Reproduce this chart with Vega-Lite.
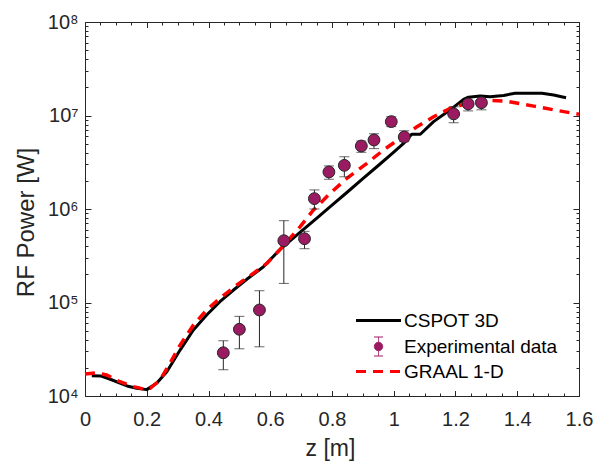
{
  "$schema": "https://vega.github.io/schema/vega-lite/v6.json",
  "width": 494,
  "height": 374,
  "autosize": {"type": "none"},
  "padding": {"left": 85, "top": 22, "right": 23, "bottom": 65},
  "background": "white",
  "config": {
    "view": {"stroke": "#262626", "strokeWidth": 1},
    "font": "Liberation Sans"
  },
  "datasets": {
    "cspot": [
      {"z": 0.022, "p": 16500, "series": "CSPOT 3D"},
      {"z": 0.05, "p": 16400, "series": "CSPOT 3D"},
      {"z": 0.08, "p": 15200, "series": "CSPOT 3D"},
      {"z": 0.113, "p": 13700, "series": "CSPOT 3D"},
      {"z": 0.14, "p": 12700, "series": "CSPOT 3D"},
      {"z": 0.167, "p": 12100, "series": "CSPOT 3D"},
      {"z": 0.2, "p": 11700, "series": "CSPOT 3D"},
      {"z": 0.232, "p": 13700, "series": "CSPOT 3D"},
      {"z": 0.265, "p": 18200, "series": "CSPOT 3D"},
      {"z": 0.308, "p": 31000, "series": "CSPOT 3D"},
      {"z": 0.351, "p": 50800, "series": "CSPOT 3D"},
      {"z": 0.394, "p": 73500, "series": "CSPOT 3D"},
      {"z": 0.437, "p": 102000, "series": "CSPOT 3D"},
      {"z": 0.481, "p": 136000, "series": "CSPOT 3D"},
      {"z": 0.524, "p": 177000, "series": "CSPOT 3D"},
      {"z": 0.578, "p": 241000, "series": "CSPOT 3D"},
      {"z": 0.632, "p": 370000, "series": "CSPOT 3D"},
      {"z": 0.7, "p": 575000, "series": "CSPOT 3D"},
      {"z": 0.75, "p": 796000, "series": "CSPOT 3D"},
      {"z": 0.8, "p": 1100000, "series": "CSPOT 3D"},
      {"z": 0.85, "p": 1520000, "series": "CSPOT 3D"},
      {"z": 0.9, "p": 2110000, "series": "CSPOT 3D"},
      {"z": 0.95, "p": 2920000, "series": "CSPOT 3D"},
      {"z": 1.0, "p": 4050000, "series": "CSPOT 3D"},
      {"z": 1.031, "p": 5000000, "series": "CSPOT 3D"},
      {"z": 1.058, "p": 6300000, "series": "CSPOT 3D"},
      {"z": 1.086, "p": 6300000, "series": "CSPOT 3D"},
      {"z": 1.129, "p": 8600000, "series": "CSPOT 3D"},
      {"z": 1.183, "p": 11500000, "series": "CSPOT 3D"},
      {"z": 1.226, "p": 14900000, "series": "CSPOT 3D"},
      {"z": 1.242, "p": 15700000, "series": "CSPOT 3D"},
      {"z": 1.28, "p": 16200000, "series": "CSPOT 3D"},
      {"z": 1.312, "p": 15900000, "series": "CSPOT 3D"},
      {"z": 1.356, "p": 16400000, "series": "CSPOT 3D"},
      {"z": 1.393, "p": 17300000, "series": "CSPOT 3D"},
      {"z": 1.48, "p": 17300000, "series": "CSPOT 3D"},
      {"z": 1.518, "p": 16600000, "series": "CSPOT 3D"},
      {"z": 1.558, "p": 15500000, "series": "CSPOT 3D"}
    ],
    "graal": [
      {"z": 0.0, "p": 17200, "series": "GRAAL 1-D"},
      {"z": 0.038, "p": 17700, "series": "GRAAL 1-D"},
      {"z": 0.07, "p": 16800, "series": "GRAAL 1-D"},
      {"z": 0.113, "p": 14200, "series": "GRAAL 1-D"},
      {"z": 0.157, "p": 12600, "series": "GRAAL 1-D"},
      {"z": 0.189, "p": 11900, "series": "GRAAL 1-D"},
      {"z": 0.211, "p": 12100, "series": "GRAAL 1-D"},
      {"z": 0.243, "p": 14800, "series": "GRAAL 1-D"},
      {"z": 0.275, "p": 22400, "series": "GRAAL 1-D"},
      {"z": 0.308, "p": 35000, "series": "GRAAL 1-D"},
      {"z": 0.351, "p": 57400, "series": "GRAAL 1-D"},
      {"z": 0.394, "p": 83200, "series": "GRAAL 1-D"},
      {"z": 0.437, "p": 111000, "series": "GRAAL 1-D"},
      {"z": 0.492, "p": 154000, "series": "GRAAL 1-D"},
      {"z": 0.545, "p": 205000, "series": "GRAAL 1-D"},
      {"z": 0.589, "p": 262000, "series": "GRAAL 1-D"},
      {"z": 0.632, "p": 370000, "series": "GRAAL 1-D"},
      {"z": 0.697, "p": 647000, "series": "GRAAL 1-D"},
      {"z": 0.74, "p": 975000, "series": "GRAAL 1-D"},
      {"z": 0.794, "p": 1470000, "series": "GRAAL 1-D"},
      {"z": 0.848, "p": 2130000, "series": "GRAAL 1-D"},
      {"z": 0.913, "p": 3080000, "series": "GRAAL 1-D"},
      {"z": 0.967, "p": 4280000, "series": "GRAAL 1-D"},
      {"z": 1.021, "p": 5700000, "series": "GRAAL 1-D"},
      {"z": 1.075, "p": 7590000, "series": "GRAAL 1-D"},
      {"z": 1.129, "p": 9700000, "series": "GRAAL 1-D"},
      {"z": 1.183, "p": 11900000, "series": "GRAAL 1-D"},
      {"z": 1.237, "p": 13500000, "series": "GRAAL 1-D"},
      {"z": 1.302, "p": 14600000, "series": "GRAAL 1-D"},
      {"z": 1.366, "p": 14200000, "series": "GRAAL 1-D"},
      {"z": 1.453, "p": 12600000, "series": "GRAAL 1-D"},
      {"z": 1.518, "p": 11500000, "series": "GRAAL 1-D"},
      {"z": 1.6, "p": 10300000, "series": "GRAAL 1-D"}
    ],
    "exp": [
      {"z": 0.448, "p": 29000, "lo": 19100, "hi": 39000, "series": "Experimental data"},
      {"z": 0.5, "p": 51700, "lo": 32000, "hi": 71100, "series": "Experimental data"},
      {"z": 0.565, "p": 83200, "lo": 33600, "hi": 133600, "series": "Experimental data"},
      {"z": 0.644, "p": 458000, "lo": 160000, "hi": 750000, "series": "Experimental data"},
      {"z": 0.711, "p": 481000, "lo": 376000, "hi": 577000, "series": "Experimental data"},
      {"z": 0.743, "p": 1290000, "lo": 1000000, "hi": 1600000, "series": "Experimental data"},
      {"z": 0.79, "p": 2490000, "lo": 2080000, "hi": 2890000, "series": "Experimental data"},
      {"z": 0.84, "p": 2930000, "lo": 2210000, "hi": 3620000, "series": "Experimental data"},
      {"z": 0.895, "p": 4720000, "lo": 4040000, "hi": 5330000, "series": "Experimental data"},
      {"z": 0.936, "p": 5470000, "lo": 4420000, "hi": 6380000, "series": "Experimental data"},
      {"z": 0.992, "p": 8600000, "lo": 7600000, "hi": 9700000, "series": "Experimental data"},
      {"z": 1.034, "p": 5890000, "lo": 5250000, "hi": 6870000, "series": "Experimental data"},
      {"z": 1.194, "p": 10400000, "lo": 8370000, "hi": 12400000, "series": "Experimental data"},
      {"z": 1.241, "p": 13300000, "lo": 11200000, "hi": 14400000, "series": "Experimental data"},
      {"z": 1.284, "p": 13700000, "lo": 11500000, "hi": 14600000, "series": "Experimental data"}
    ]
  },
  "layer": [
    {
      "data": {"name": "cspot"},
      "mark": {"type": "line", "strokeWidth": 3, "strokeJoin": "round"},
      "encoding": {
        "x": {
          "field": "z", "type": "quantitative",
          "scale": {"domain": [0, 1.6], "nice": false, "zero": false},
          "axis": {
            "orient": "bottom",
            "values": [0, 0.05, 0.1, 0.15, 0.2, 0.25, 0.3, 0.35, 0.4, 0.45, 0.5, 0.55, 0.6, 0.65, 0.7, 0.75, 0.8, 0.85, 0.9, 0.95, 1, 1.05, 1.1, 1.15, 1.2, 1.25, 1.3, 1.35, 1.4, 1.45, 1.5, 1.55, 1.6],
            "domain": false, "grid": false,
            "tickSize": {"condition": {"test": "abs(datum.value*5-round(datum.value*5))<0.001", "value": -5.5}, "value": -3},
            "tickColor": "#262626", "tickWidth": 1,
            "labelExpr": "abs(datum.value*5-round(datum.value*5))<0.001 ? format(datum.value, '~g') : ''",
            "labelFont": "Liberation Sans", "labelFontSize": 20, "labelColor": "#262626",
            "labelPadding": 34.5, "labelBaseline": "alphabetic", "labelAlign": "center",
            "labelFlush": false, "labelOverlap": false, "labelBound": false,
            "title": "z [m]", "titleFont": "Liberation Sans", "titleFontSize": 23, "titleFontWeight": "normal", "titleColor": "#262626",
            "titleX": 245, "titleY": 59, "titleBaseline": "alphabetic", "titleAlign": "center"
          }
        },
        "y": {
          "field": "p", "type": "quantitative",
          "scale": {"type": "log", "domain": [10000, 100000000], "nice": false},
          "axis": {
            "orient": "left",
            "values": [10000, 20000, 30000, 40000, 50000, 60000, 70000, 80000, 90000, 100000, 200000, 300000, 400000, 500000, 600000, 700000, 800000, 900000, 1000000, 2000000, 3000000, 4000000, 5000000, 6000000, 7000000, 8000000, 9000000, 10000000, 20000000, 30000000, 40000000, 50000000, 60000000, 70000000, 80000000, 90000000, 100000000],
            "domain": false, "grid": false,
            "tickSize": {"condition": {"test": "indexof([10000,100000,1000000,10000000,100000000], datum.value) >= 0", "value": -6}, "value": -3},
            "tickColor": "#262626", "tickWidth": 1,
            "labelExpr": "datum.value == 10000 ? '10⁴' : datum.value == 100000 ? '10⁵' : datum.value == 1000000 ? '10⁶' : datum.value == 10000000 ? '10⁷' : datum.value == 100000000 ? '10⁸' : ''",
            "labelFont": "Liberation Sans", "labelFontSize": 20, "labelColor": "#262626",
            "labelPadding": 13, "labelBaseline": "middle", "labelAlign": "right",
            "labelFlush": false, "labelOverlap": false, "labelBound": false,
            "title": "RF Power [W]", "titleFont": "Liberation Sans", "titleFontSize": 24, "titleFontWeight": "normal", "titleColor": "#262626",
            "titleX": -52, "titleY": 200, "titleAngle": 270, "titleBaseline": "alphabetic", "titleAlign": "center"
          }
        },
        "color": {
          "field": "series", "type": "nominal",
          "scale": {"domain": ["CSPOT 3D", "Experimental data", "GRAAL 1-D"], "range": ["#000000", "#9b1b62", "#ff0000"]},
          "legend": {
            "orient": "none", "legendX": 284, "legendY": 289,
            "title": null, "padding": 0,
            "labelFont": "Liberation Sans", "labelFontSize": 19, "labelColor": "#000000",
            "symbolSize": 400, "symbolStrokeWidth": 2, "labelOffset": 16, "rowPadding": 4,
            "encode": {
              "symbols": {
                "update": {
                  "shape": {"signal": "datum.value == 'Experimental data' ? 'M0.42,0A0.42,0.42 0 1 1 -0.42,0A0.42,0.42 0 1 1 0.42,0Z M0,-0.42L0,-0.95M-0.45,-0.95L0.45,-0.95M0,0.42L0,0.95M-0.45,0.95L0.45,0.95' : 'M-2.25,0L2.25,0'"},
                  "stroke": {"signal": "datum.value == 'CSPOT 3D' ? '#000000' : datum.value == 'GRAAL 1-D' ? '#ff0000' : '#262626'"},
                  "fill": {"signal": "datum.value == 'Experimental data' ? '#9b1b62' : 'transparent'"},
                  "strokeWidth": {"signal": "datum.value == 'Experimental data' ? 1 : 3"},
                  "strokeDash": {"signal": "datum.value == 'GRAAL 1-D' ? [10, 7] : [1, 0]"},
                  "opacity": {"value": 1}
                }
              }
            }
          }
        }
      }
    },
    {
      "data": {"name": "graal"},
      "mark": {"type": "line", "strokeWidth": 3.5, "strokeDash": [10, 7]},
      "encoding": {
        "x": {
          "field": "z", "type": "quantitative",
          "scale": {"domain": [0, 1.6], "nice": false, "zero": false},
          "axis": {
            "orient": "top",
            "values": [0, 0.05, 0.1, 0.15, 0.2, 0.25, 0.3, 0.35, 0.4, 0.45, 0.5, 0.55, 0.6, 0.65, 0.7, 0.75, 0.8, 0.85, 0.9, 0.95, 1, 1.05, 1.1, 1.15, 1.2, 1.25, 1.3, 1.35, 1.4, 1.45, 1.5, 1.55, 1.6],
            "domain": false, "grid": false, "labels": false, "title": null,
            "tickSize": {"condition": {"test": "abs(datum.value*5-round(datum.value*5))<0.001", "value": -5.5}, "value": -3},
            "tickColor": "#262626", "tickWidth": 1
          }
        },
        "y": {
          "field": "p", "type": "quantitative",
          "scale": {"type": "log", "domain": [10000, 100000000], "nice": false},
          "axis": {
            "orient": "right",
            "values": [10000, 20000, 30000, 40000, 50000, 60000, 70000, 80000, 90000, 100000, 200000, 300000, 400000, 500000, 600000, 700000, 800000, 900000, 1000000, 2000000, 3000000, 4000000, 5000000, 6000000, 7000000, 8000000, 9000000, 10000000, 20000000, 30000000, 40000000, 50000000, 60000000, 70000000, 80000000, 90000000, 100000000],
            "domain": false, "grid": false, "labels": false, "title": null,
            "tickSize": {"condition": {"test": "indexof([10000,100000,1000000,10000000,100000000], datum.value) >= 0", "value": -6}, "value": -3},
            "tickColor": "#262626", "tickWidth": 1
          }
        },
        "color": {"field": "series", "type": "nominal"}
      }
    },
    {
      "data": {"name": "exp"},
      "mark": {"type": "errorbar", "ticks": true, "color": "#262626", "thickness": 1, "size": 10},
      "encoding": {
        "x": {"field": "z", "type": "quantitative", "axis": null},
        "y": {"field": "lo", "type": "quantitative", "axis": null},
        "y2": {"field": "hi"}
      }
    },
    {
      "data": {"name": "exp"},
      "mark": {"type": "circle", "size": 140, "stroke": "#262626", "strokeWidth": 1, "opacity": 1},
      "encoding": {
        "x": {"field": "z", "type": "quantitative", "axis": null},
        "y": {"field": "p", "type": "quantitative", "axis": null},
        "color": {"field": "series", "type": "nominal"}
      }
    }
  ],
  "resolve": {"axis": {"x": "independent", "y": "independent"}}
}
